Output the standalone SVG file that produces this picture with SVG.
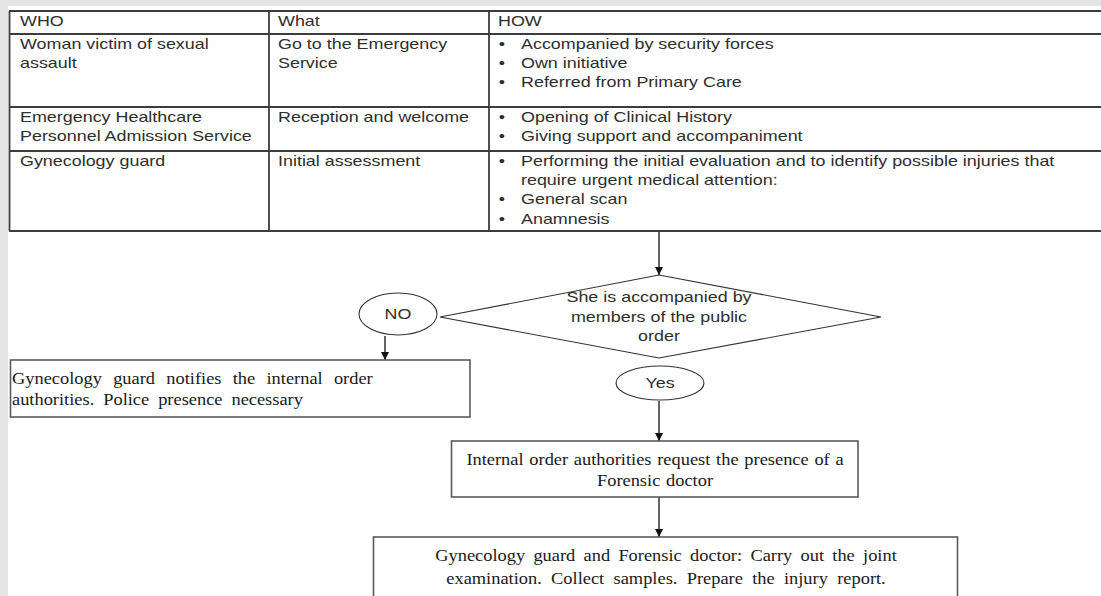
<svg xmlns="http://www.w3.org/2000/svg" width="1101" height="596" viewBox="0 0 1101 596">
<defs>
<marker id="ah" viewBox="0 0 10 10" refX="10" refY="5" markerWidth="8" markerHeight="8" markerUnits="userSpaceOnUse" orient="auto">
<path d="M0,0 L10,5 L0,10 Z" fill="#111"/>
</marker>
<style>
.s{font-family:"Liberation Sans",Arial,sans-serif;font-size:14px;fill:#2e2e2e}
.r{font-family:"Liberation Serif","Times New Roman",serif;font-size:16px;fill:#1a1a1a}
.tl{stroke:#3c3c3c;stroke-width:1.8;fill:none}
.box{fill:#fff;stroke:#5a5a5a;stroke-width:1.6}
.shape{fill:#fff;stroke:#333;stroke-width:1.1}
.con{stroke:#111;stroke-width:1.3;fill:none;marker-end:url(#ah)}
</style>
</defs>
<rect x="0" y="0" width="1101" height="596" fill="#e4e4e4"/>
<rect x="8" y="6" width="1093" height="590" fill="#fff"/>

<g id="table">
<line class="tl" x1="9" y1="11" x2="1101" y2="11"/>
<line class="tl" x1="9" y1="34" x2="1101" y2="34"/>
<line class="tl" x1="9" y1="107" x2="1101" y2="107"/>
<line class="tl" x1="9" y1="151" x2="1101" y2="151"/>
<line class="tl" x1="9" y1="231" x2="1101" y2="231"/>
<line class="tl" x1="9.5" y1="11" x2="9.5" y2="231"/>
<line class="tl" x1="269" y1="11" x2="269" y2="231"/>
<line class="tl" x1="489" y1="11" x2="489" y2="231"/>

<text class="s" transform="translate(20 26) scale(1.28 1)">WHO</text>
<text class="s" transform="translate(278 26) scale(1.28 1)">What</text>
<text class="s" transform="translate(498 26) scale(1.28 1)">HOW</text>

<text class="s" transform="translate(20 49) scale(1.28 1)">Woman victim of sexual</text>
<text class="s" transform="translate(20 68.2) scale(1.28 1)">assault</text>
<text class="s" transform="translate(278 49) scale(1.28 1)">Go to the Emergency</text>
<text class="s" transform="translate(278 68.2) scale(1.28 1)">Service</text>
<text class="s" text-anchor="middle" transform="translate(502 49) scale(1.28 1)">•</text>
<text class="s" transform="translate(521 49) scale(1.28 1)">Accompanied by security forces</text>
<text class="s" text-anchor="middle" transform="translate(502 68.2) scale(1.28 1)">•</text>
<text class="s" transform="translate(521 68.2) scale(1.28 1)">Own initiative</text>
<text class="s" text-anchor="middle" transform="translate(502 87.4) scale(1.28 1)">•</text>
<text class="s" transform="translate(521 87.4) scale(1.28 1)">Referred from Primary Care</text>

<text class="s" transform="translate(20 122) scale(1.28 1)">Emergency Healthcare</text>
<text class="s" transform="translate(20 141.2) scale(1.28 1)">Personnel Admission Service</text>
<text class="s" transform="translate(278 122) scale(1.28 1)">Reception and welcome</text>
<text class="s" text-anchor="middle" transform="translate(502 122) scale(1.28 1)">•</text>
<text class="s" transform="translate(521 122) scale(1.28 1)">Opening of Clinical History</text>
<text class="s" text-anchor="middle" transform="translate(502 141.2) scale(1.28 1)">•</text>
<text class="s" transform="translate(521 141.2) scale(1.28 1)">Giving support and accompaniment</text>

<text class="s" transform="translate(20 166) scale(1.28 1)">Gynecology guard</text>
<text class="s" transform="translate(278 166) scale(1.28 1)">Initial assessment</text>
<text class="s" text-anchor="middle" transform="translate(502 166) scale(1.28 1)">•</text>
<text class="s" transform="translate(521 166) scale(1.28 1)">Performing the initial evaluation and to identify possible injuries that</text>
<text class="s" transform="translate(521 185.2) scale(1.28 1)">require urgent medical attention:</text>
<text class="s" text-anchor="middle" transform="translate(502 204.4) scale(1.28 1)">•</text>
<text class="s" transform="translate(521 204.4) scale(1.28 1)">General scan</text>
<text class="s" text-anchor="middle" transform="translate(502 223.6) scale(1.28 1)">•</text>
<text class="s" transform="translate(521 223.6) scale(1.28 1)">Anamnesis</text>
</g>

<g id="connectors">
<line class="con" x1="659" y1="232" x2="659" y2="275"/>
<line class="con" x1="385" y1="336" x2="385" y2="360"/>
<line class="con" x1="659" y1="401" x2="659" y2="441"/>
<line class="con" x1="659" y1="497" x2="659" y2="537"/>
</g>

<g id="decision">
<polygon class="shape" points="659,275 881,317 659,358 440,317"/>
<text class="s" text-anchor="middle" transform="translate(659 302) scale(1.28 1)">She is accompanied by</text>
<text class="s" text-anchor="middle" transform="translate(659 321.5) scale(1.28 1)">members of the public</text>
<text class="s" text-anchor="middle" transform="translate(659 341) scale(1.28 1)">order</text>
</g>

<g id="no">
<ellipse class="shape" cx="398" cy="314" rx="39" ry="21"/>
<text class="s" text-anchor="middle" transform="translate(398 319) scale(1.28 1)">NO</text>
</g>

<g id="yes">
<ellipse class="shape" cx="660" cy="383" rx="44" ry="17"/>
<text class="s" text-anchor="middle" transform="translate(660 388) scale(1.28 1)">Yes</text>
</g>

<g id="notify">
<rect class="box" x="10.5" y="360" width="459.5" height="57"/>
<text class="r" word-spacing="5.8" transform="translate(12 384) scale(1.15 1)">Gynecology guard notifies the internal order</text>
<text class="r" word-spacing="3.8" transform="translate(12 405) scale(1.15 1)">authorities. Police presence necessary</text>
</g>

<g id="request">
<rect class="box" x="451.5" y="441" width="406.5" height="56"/>
<text class="r" text-anchor="middle" word-spacing="1" transform="translate(655 465) scale(1.15 1)">Internal order authorities request the presence of a</text>
<text class="r" text-anchor="middle" word-spacing="1" transform="translate(655 486) scale(1.15 1)">Forensic doctor</text>
</g>

<g id="exam">
<rect class="box" x="373.5" y="537" width="584" height="70"/>
<text class="r" text-anchor="middle" word-spacing="3.2" transform="translate(666 561) scale(1.15 1)">Gynecology guard and Forensic doctor: Carry out the joint</text>
<text class="r" text-anchor="middle" word-spacing="4.1" transform="translate(666 584) scale(1.15 1)">examination. Collect samples. Prepare the injury report.</text>
</g>
</svg>
